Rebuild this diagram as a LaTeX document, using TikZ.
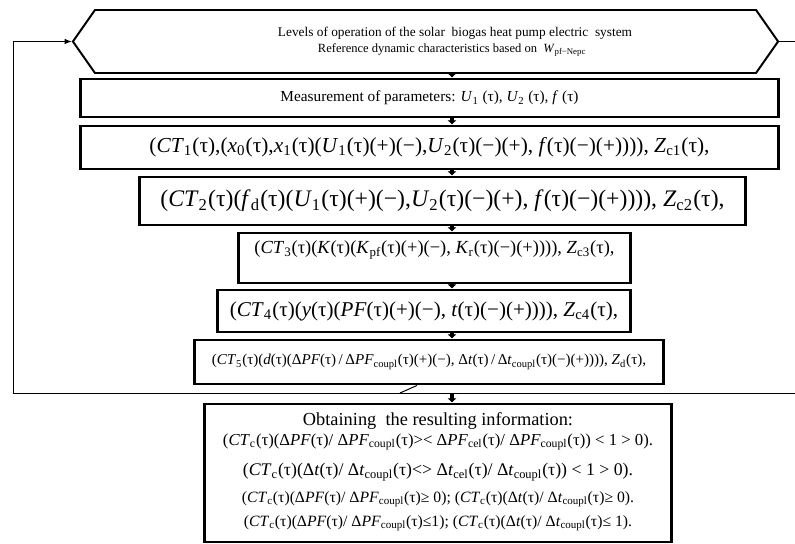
\documentclass[tikz,border=0pt]{standalone}
\usepackage{fontspec}
\setmainfont{Liberation Serif}
\usepackage{graphicx}
\usetikzlibrary{shapes.symbols,arrows.meta,positioning,calc}

\newcommand{\tu}{(τ)}
\newcommand{\vr}[2]{\textit{#1}\textsubscript{#2}}
\newcommand{\fitw}[2]{\resizebox{#1}{!}{#2}}

\begin{document}
\begin{tikzpicture}[x=0.025cm, y=-0.025cm,
    box/.style={draw, line width=2.1pt, inner sep=0pt, align=center},
    hexa/.style={draw, line width=1.4pt, shape=signal, signal to=west and east, signal pointer angle=110, inner sep=0pt},
    txt/.style={inner sep=0pt, align=center},
    stub/.style={line width=2.8pt, -{Latex[length=3pt,width=7pt]}},
    fback/.style={line width=0.7pt}
]
    \useasboundingbox (0,0) rectangle (795,544);

    \node[hexa, minimum width=17.625cm, minimum height=1.575cm] (lvl) at (425.5,41.5) {};
    \node[txt] (lvl1) at (455,33) {\fitw{8.85cm}{Levels of operation of the solar \ biogas heat pump electric \ system}};
    \node[txt] (lvl2) at (452,50) {\fitw{6.7cm}{Reference dynamic characteristics based on \ \vr{W}{pf−Nepc}}};

    \node[box, minimum width=17.43cm, minimum height=0.95cm] (meas) at (429.5,98) {\fitw{7.45cm}{Measurement of parameters: \vr{U}{1} \tu, \vr{U}{2} \tu, \textit{f} \tu}};
    \node[box, minimum width=17.43cm, minimum height=1.075cm] (ct1) at (429.5,147.5) {\fitw{14cm}{(\vr{CT}{1}\tu,(\vr{x}{0}\tu,\vr{x}{1}\tu(\vr{U}{1}\tu(+)(−),\vr{U}{2}\tu(−)(+), \textit{f}\tu(−)(+)))), \vr{Z}{c1}\tu,}};
    \node[box, minimum width=15.125cm, minimum height=1.2cm] (ct2) at (442.5,201) {\fitw{14.1cm}{(\vr{CT}{2}\tu(\vr{f}{d}\tu(\vr{U}{1}\tu(+)(−),\vr{U}{2}\tu(−)(+), \textit{f}\tu(−)(+)))), \vr{Z}{c2}\tu,}};
    \node[box, minimum width=9.775cm, minimum height=1.25cm, text depth=0.55cm] (ct3) at (434.5,258) {\fitw{9cm}{(\vr{CT}{3}\tu(\textit{K}\tu(\vr{K}{pf}\tu(+)(−), \vr{K}{r}\tu(−)(+)))), \vr{Z}{c3}\tu,}};
    \node[box, minimum width=10.3cm, minimum height=1.05cm] (ct4) at (424,311) {\fitw{9.7cm}{(\vr{CT}{4}\tu(\textit{y}\tu(\textit{PF}\tu(+)(−), \textit{t}\tu(−)(+)))), \vr{Z}{c4}\tu,}};
    \node[box, minimum width=11.7cm, minimum height=1.1cm] (ct5) at (429,362) {\fitw{10.85cm}{(\vr{CT}{5}\tu(\textit{d}\tu(Δ\textit{PF}\tu\,/\,Δ\vr{PF}{coupl}\tu(+)(−), Δ\textit{t}\tu\,/\,Δ\vr{t}{coupl}\tu(−)(+)))), \vr{Z}{d}\tu,}};

    % resulting information
    \node[box, minimum width=11.65cm, minimum height=3.45cm] (res) at (438,473) {};
    \node[txt] (res0) at (438,421) {\fitw{6.75cm}{Obtaining \ the resulting information:}};
    \node[txt] (res1) at (438,442) {\fitw{10.75cm}{(\vr{CT}{c}\tu(Δ\textit{PF}\tu / Δ\vr{PF}{coupl}\tu >< Δ\vr{PF}{cel}\tu / Δ\vr{PF}{coupl}\tu) < 1 > 0).}};
    \node[txt] (res2) at (438,472) {\fitw{9.75cm}{(\vr{CT}{c}\tu(Δ\textit{t}\tu / Δ\vr{t}{coupl}\tu <> Δ\vr{t}{cel}\tu / Δ\vr{t}{coupl}\tu) < 1 > 0).}};
    \node[txt] (res3) at (438,499) {\fitw{9.8cm}{(\vr{CT}{c}\tu(Δ\textit{PF}\tu / Δ\vr{PF}{coupl}\tu ≥ 0); (\vr{CT}{c}\tu(Δ\textit{t}\tu / Δ\vr{t}{coupl}\tu ≥ 0).}};
    \node[txt] (res4) at (438,523) {\fitw{9.7cm}{(\vr{CT}{c}\tu(Δ\textit{PF}\tu / Δ\vr{PF}{coupl}\tu ≤1); (\vr{CT}{c}\tu(Δ\textit{t}\tu / Δ\vr{t}{coupl}\tu ≤ 1).}};

    \coordinate (mid) at (452,0);
    \coordinate (tap) at (417,0);
    \coordinate (kink) at (400,393);
    \coordinate (fbl) at (13,393);
    \coordinate (fbr) at (795,393);
    \coordinate (hexout) at (795,41.5);

    \draw[stub] (lvl.south -| mid) -- (meas.north -| mid);
    \draw[stub] (meas.south -| mid) -- (ct1.north -| mid);
    \draw[stub] (ct1.south -| mid) -- (ct2.north -| mid);
    \draw[stub] (ct2.south -| mid) -- (ct3.north -| mid);
    \draw[stub] (ct3.south -| mid) -- (ct4.north -| mid);
    \draw[stub] (ct4.south -| mid) -- (ct5.north -| mid);
    \draw[stub] (kink -| mid) -- (res.north -| mid);

    % feedback
    \draw[fback] (ct5.south -| tap) -- (kink);
    \draw[fback, -{Latex[length=5pt,width=4pt]}] (fbr) -- (fbl) |- (lvl.west);
    \draw[fback] (lvl.east) -- (hexout);
\end{tikzpicture}
\end{document}
